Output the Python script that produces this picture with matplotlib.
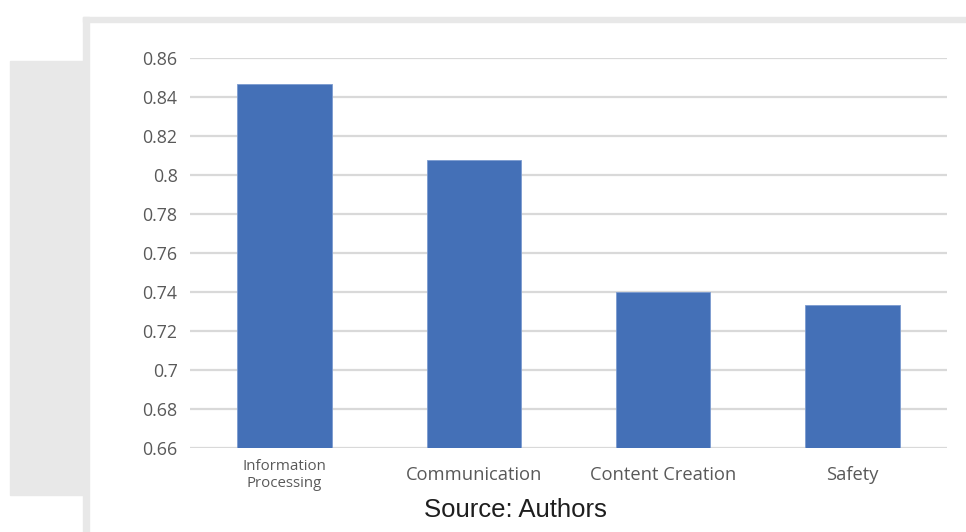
import matplotlib
matplotlib.use("Agg")
import matplotlib.pyplot as plt
from matplotlib.patches import Rectangle

categories = ["Information\nProcessing", "Communication", "Content Creation", "Safety"]
scores = [0.8467, 0.8077, 0.7400, 0.7333]
yticks = [0.66, 0.68, 0.70, 0.72, 0.74, 0.76, 0.78, 0.80, 0.82, 0.84, 0.86]
ytick_labels = ["0.66", "0.68", "0.7", "0.72", "0.74", "0.76", "0.78", "0.8", "0.82", "0.84", "0.86"]

W, H = 966, 532
fig = plt.figure(figsize=(W / 100, H / 100), dpi=100)
fig.patch.set_facecolor("white")

gray = "#e8e8e8"
# page decoration: left panel, top band, vertical strip
fig.patches.append(Rectangle((10 / W, 1 - 495 / H), 75 / W, (495 - 61) / H,
                             transform=fig.transFigure, color=gray, zorder=0))
fig.patches.append(Rectangle((83 / W, 1 - 22 / H), (W - 83) / W, 5 / H,
                             transform=fig.transFigure, color=gray, zorder=0))
fig.patches.append(Rectangle((83 / W, 0), 6 / W, (H - 17) / H,
                             transform=fig.transFigure, color=gray, zorder=0))

ax = fig.add_axes([190 / W, 1 - 448 / H, (947 - 190) / W, (448 - 58) / H])
ax.set_facecolor("white")
x = range(len(categories))
ax.bar(x, [s - 0.66 for s in scores], bottom=0.66, width=0.5, color="#4470b7",
       edgecolor="#7b9bd0", linewidth=0.6, zorder=3)
ax.set_xlim(-0.5, len(categories) - 0.5)
ax.set_ylim(0.66, 0.86)
ax.set_yticks(yticks)
ax.set_yticklabels(ytick_labels, fontsize=12.8, color="#595959", family="Open Sans")
ax.set_xticks(list(x))
ax.set_xticklabels(categories, color="#595959", family="Open Sans", fontsize=13.2)
for lab in ax.get_xticklabels():
    lab.set_verticalalignment("center")
lbl0 = ax.get_xticklabels()[0]
lbl0.set_fontsize(10.8)
lbl0.set_linespacing(1.12)
ax.tick_params(axis="both", length=0)
ax.tick_params(axis="y", pad=9)
ax.tick_params(axis="x", pad=19.5)
ax.yaxis.grid(True, color="#d9d9d9", linewidth=1.6, zorder=0)
for s in ax.spines.values():
    s.set_visible(False)

fig.text(515 / W, 1 - 510 / H, "Source: Authors", ha="center", va="center",
         fontsize=18.5, color="#1e1e1e", family="Liberation Sans")

fig.savefig("out.png", dpi=100, facecolor="white")
